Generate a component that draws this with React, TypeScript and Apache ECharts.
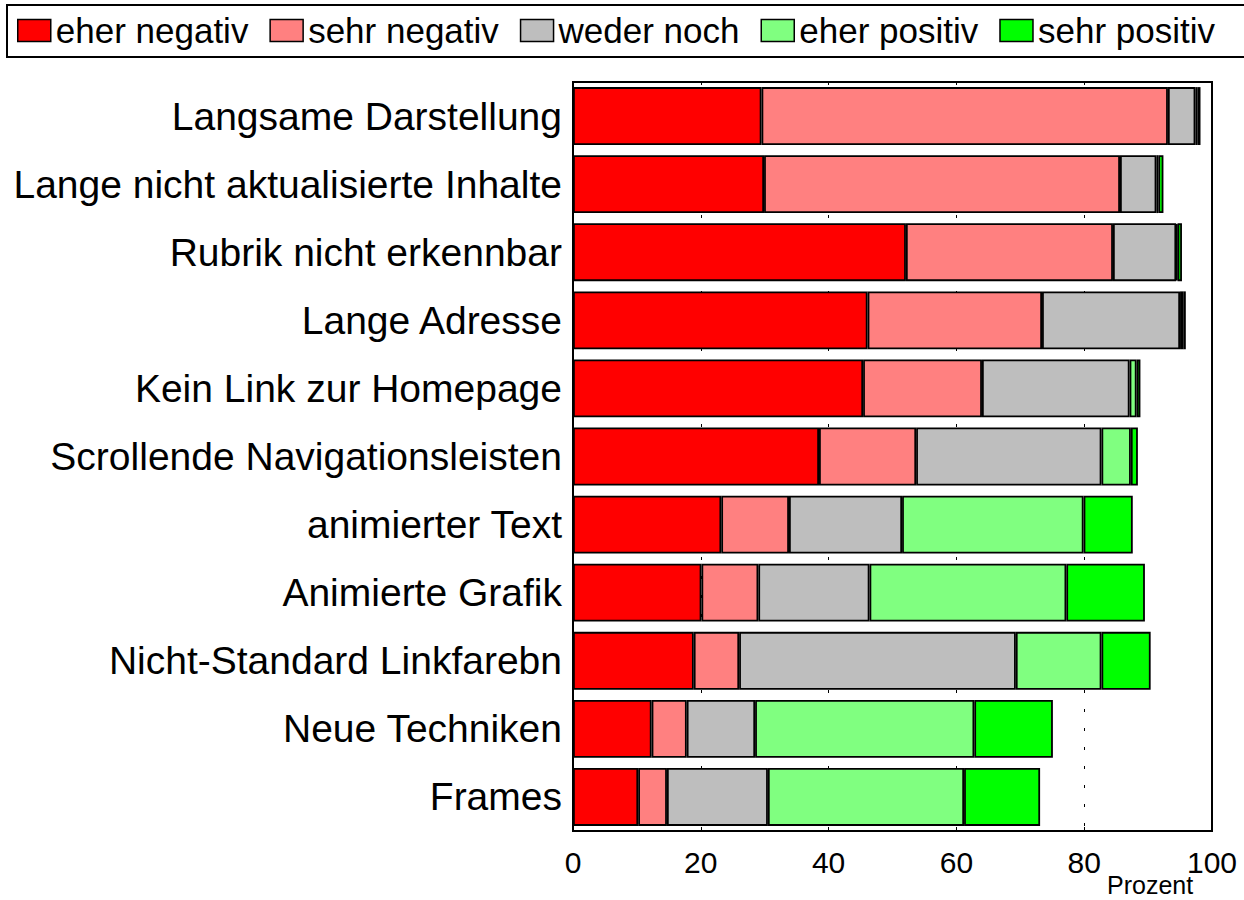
import React, { useEffect, useRef } from "react";
import * as echarts from "echarts";

const categories = [
  "Langsame Darstellung",
  "Lange nicht aktualisierte Inhalte",
  "Rubrik nicht erkennbar",
  "Lange Adresse",
  "Kein Link zur Homepage",
  "Scrollende Navigationsleisten",
  "animierter Text",
  "Animierte Grafik",
  "Nicht-Standard Linkfarebn",
  "Neue Techniken",
  "Frames",
];

const seriesNames = ["eher negativ", "sehr negativ", "weder noch", "eher positiv", "sehr positiv"];
const seriesColors = ["#ff0000", "#ff8080", "#bebebe", "#80ff80", "#00ff00"];

const eherNegativ = [29.5, 29.9, 52.1, 46.1, 45.4, 38.5, 23.2, 20.1, 18.9, 12.3, 10.2];
const sehrNegativ = [63.6, 55.7, 32.4, 27.3, 18.6, 15.2, 10.6, 8.9, 7.1, 5.5, 4.5];
const wederNoch = [4.3, 5.7, 9.9, 21.6, 23.1, 29.0, 17.7, 17.4, 43.3, 10.7, 15.8];
const eherPositiv = [0.3, 0.3, 0.2, 0.5, 1.1, 4.6, 28.4, 30.8, 13.4, 34.3, 30.7];
const sehrPositiv = [0.5, 0.8, 0.7, 0.4, 0.6, 1.1, 7.7, 12.3, 7.7, 12.3, 11.9];

const xTicks = [0, 20, 40, 60, 80, 100];

const FONT = "'Liberation Sans', Arial, Helvetica, sans-serif";

export default function App() {
  const ref = useRef<HTMLDivElement>(null);

  useEffect(() => {
    document.body.style.margin = "0";
    if (!ref.current) return;
    const chart = echarts.init(ref.current, null, { renderer: "svg" });
    const values = [eherNegativ, sehrNegativ, wederNoch, eherPositiv, sehrPositiv];
    chart.setOption({
      animation: false,
      backgroundColor: "#ffffff",
      textStyle: { fontFamily: FONT },
      legend: {
        left: 17,
        top: 13,
        padding: 0,
        itemWidth: 33,
        itemHeight: 22,
        itemGap: 21,
        icon: "rect",
        selectedMode: false,
        data: seriesNames,
        textStyle: { fontSize: 35, color: "#000", fontFamily: FONT },
        itemStyle: { borderColor: "#000", borderWidth: 1.5 },
      },
      graphic: [
        {
          type: "rect",
          shape: { x: 7, y: 5, width: 1270, height: 52 },
          style: { fill: "none", stroke: "#000", lineWidth: 2 },
          z: 0,
        },
        {
          type: "text",
          left: 1107,
          top: 872,
          style: { text: "Prozent", fontSize: 25, fill: "#000", fontFamily: FONT },
        },
      ],
      grid: {
        left: 573,
        right: 32,
        top: 82,
        bottom: 69,
        show: true,
        borderColor: "#000",
        borderWidth: 2,
        backgroundColor: "transparent",
      },
      xAxis: {
        type: "value",
        min: xTicks[0],
        max: xTicks[xTicks.length - 1],
        interval: 20,
        axisLine: { show: true, lineStyle: { color: "#000", width: 2 } },
        axisTick: { show: true, inside: true, length: 4, lineStyle: { color: "#000" } },
        axisLabel: { fontSize: 30, color: "#000", margin: 16, fontFamily: FONT },
        splitLine: { show: true, lineStyle: { color: "#000", width: 1, type: [3, 16] } },
      },
      yAxis: {
        type: "category",
        inverse: true,
        data: categories,
        axisLine: { show: true, lineStyle: { color: "#000", width: 2 } },
        axisTick: { show: false },
        axisLabel: { fontSize: 39, color: "#000", margin: 11, fontFamily: FONT },
      },
      series: seriesNames.map((name, i) => ({
        name,
        type: "bar",
        stack: "total",
        barCategoryGap: "15%",
        data: values[i],
        itemStyle: { color: seriesColors[i], borderColor: "#000", borderWidth: 1.8 },
      })),
    });
    return () => chart.dispose();
  }, []);

  return <div ref={ref} style={{ position: "absolute", left: 0, top: 0, width: 1244, height: 900 }} />;
}
